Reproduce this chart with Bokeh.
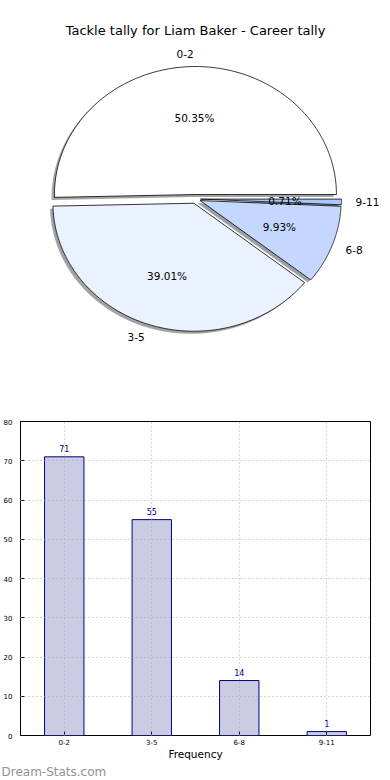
import numpy as np
from bokeh.plotting import figure
from bokeh.models import (ColumnDataSource, FactorRange, Range1d, Label,
                          SingleIntervalTicker, Title)
from bokeh.layouts import column
from bokeh.embed import file_html
from bokeh.resources import INLINE
from bokeh.core.properties import value

# ---------------- data ----------------
title_text = "Tackle tally for Liam Baker - Career tally"
categories = ["0-2", "3-5", "6-8", "9-11"]
counts = [71, 55, 14, 1]
slice_colors = ["#ffffff", "#ebf2ff", "#c4d8ff", "#a9c8ff"]
explode = [0.035, 0.035, 0.035, 0.035]
y_ticks_max = 80
x_label = "Frequency"
watermark = "Dream-Stats.com"

FONT = "DejaVu Sans"

# ---------------- pie ----------------
W = 380
PH = 382
rx_px, ry_px = 141.0, 128.0
cx_px, cy_px = 195.0, 198.5  # center in figure-local px (from top-left)

pie = figure(width=W, height=PH, output_backend="svg", toolbar_location=None,
             x_axis_location=None, y_axis_location=None, min_border=0,
             x_range=Range1d(-cx_px / rx_px, (W - cx_px) / rx_px),
             y_range=Range1d(-(PH - cy_px) / ry_px, cy_px / ry_px))
pie.frame_align = False
pie.grid.visible = False
pie.outline_line_color = None
pie.background_fill_color = "white"

total = float(sum(counts))
fracs = [c / total for c in counts]
starts = np.cumsum([0.0] + fracs[:-1]) * 2 * np.pi
ends = np.cumsum(fracs) * 2 * np.pi

xs, ys, sxs, sys_, shadow_cols = [], [], [], [], []
lab_l = dict(x=[], y=[], t=[])
lab_r = dict(x=[], y=[], t=[])
pct = dict(x=[], y=[], t=[])
for i, cat in enumerate(categories):
    mid = (starts[i] + ends[i]) / 2
    ox, oy = explode[i] * np.cos(mid), explode[i] * np.sin(mid)
    th = np.linspace(starts[i], ends[i], 200)
    px = np.concatenate([[ox], ox + np.cos(th), [ox]])
    py = np.concatenate([[oy], oy + np.sin(th), [oy]])
    xs.append(list(px)); ys.append(list(py))
    sxs.append(list(px - 0.02)); sys_.append(list(py - 0.02))
    c = slice_colors[i].lstrip("#")
    rgb = [int(c[k:k + 2], 16) for k in (0, 2, 4)]
    shadow_cols.append("#%02x%02x%02x" % tuple(int(0.3 * v) for v in rgb))
    lx, ly = ox + 1.1 * np.cos(mid), oy + 1.1 * np.sin(mid)
    d = lab_l if lx > 0 else lab_r
    d["x"].append(lx); d["y"].append(ly); d["t"].append(cat)
    pct["x"].append(ox + 0.6 * np.cos(mid)); pct["y"].append(oy + 0.6 * np.sin(mid))
    pct["t"].append("%.2f%%" % (100 * fracs[i]))

pie.patches(xs=sxs, ys=sys_, fill_color=shadow_cols, fill_alpha=0.5, line_color=None)
pie.patches(xs=xs, ys=ys, fill_color=slice_colors, line_color="black", line_width=0.8)

pie.text(x="x", y="y", text="t", source=ColumnDataSource(lab_l), text_align="left",
         text_baseline="middle", text_font=value(FONT), text_font_size="10.5px", text_color="black")
pie.text(x="x", y="y", text="t", source=ColumnDataSource(lab_r), text_align="right",
         text_baseline="middle", text_font=value(FONT), text_font_size="10.5px", text_color="black")
pie.text(x="x", y="y", text="t", source=ColumnDataSource(pct), text_align="center",
         text_baseline="middle", text_font=value(FONT), text_font_size="10.5px", text_color="black")
pie.add_layout(Label(x=0, y=(cy_px - 30) / ry_px, text=title_text,
                     text_align="center", text_baseline="middle", text_font=FONT,
                     text_font_size="13px", text_color="black"))

# ---------------- bars ----------------
BH = 396
bar = figure(width=W, height=BH, output_backend="svg", toolbar_location=None,
             x_range=FactorRange(*categories, range_padding=0),
             y_range=Range1d(0, y_ticks_max),
             min_border_left=19, min_border_right=10, min_border_top=39, min_border_bottom=36)
bar.frame_align = False
bar.x_range.range_padding = 0
bar.vbar(x=categories, top=counts, width=0.45, fill_color="#cbcbe3", line_color="#000080", line_width=1)
bar.text(x=categories, y=counts, text=[str(c) for c in counts], text_align="center",
         text_baseline="middle", y_offset=-8, text_font=value(FONT), text_font_size="8px",
         text_color="#000080")

bar.outline_line_color = "black"
bar.outline_line_width = 1
bar.background_fill_color = "white"
bar.grid.grid_line_color = "#aaaaaa"
bar.grid.grid_line_dash = "1 3"
bar.grid.grid_line_width = 1
bar.grid.level = "overlay"

bar.yaxis.ticker = SingleIntervalTicker(interval=10)
for ax in bar.xaxis + bar.yaxis:
    ax.axis_line_color = None
    ax.major_tick_in = 4
    ax.major_tick_out = 0
    ax.minor_tick_line_color = None
    ax.major_tick_line_color = "black"
    ax.major_label_text_font = FONT
    ax.major_label_text_font_size = "7px"
    ax.major_label_text_color = "black"
bar.yaxis.major_label_standoff = 4
bar.xaxis.major_label_standoff = 3
bar.xaxis.axis_label = x_label
bar.xaxis.axis_label_text_font = FONT
bar.xaxis.axis_label_text_font_size = "10.5px"
bar.xaxis.axis_label_text_font_style = "normal"
bar.xaxis.axis_label_standoff = 0
bar.xaxis.axis_label_text_color = "black"

bar.add_layout(Title(text=watermark, align="left", offset=-19, standoff=0,
                     text_font=FONT, text_font_size="12px", text_font_style="normal",
                     text_color="#929292", text_line_height=0.8), "below")

layout = column(pie, bar, spacing=0)
open("out.html", "w").write(file_html(layout, INLINE))
